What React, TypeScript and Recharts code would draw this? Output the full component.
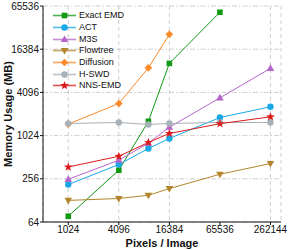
import React from 'react';
import { LineChart, Line, XAxis, YAxis, CartesianGrid, Legend } from 'recharts';

const pixels = [1024, 4096, 9216, 16384, 65536, 262144];
const exactEmd = [77, 337, 1620, 10400, 53600, null];
const act = [213, 405, 677, 934, 1830, 2580];
const m3s = [252, 465, 805, 1340, 3440, 8860];
const flowtree = [128, 136, 151, 187, 296, 418];
const diffusion = [1480, 2870, 9000, 26400, null, null];
const hswd = [1510, 1560, 1465, 1510, 1560, 1560];
const nnsEmd = [374, 528, 822, 1097, 1500, 1870];

const xTicks = [1024, 4096, 16384, 65536, 262144];
const yTicks = [64, 256, 1024, 4096, 16384, 65536];

type Shape = 'square' | 'circle' | 'triUp' | 'triDown' | 'diamond' | 'star';

const series: { key: string; name: string; color: string; shape: Shape; values: (number | null)[] }[] = [
  { key: 'exact', name: 'Exact EMD', color: '#119911', shape: 'square', values: exactEmd },
  { key: 'act', name: 'ACT', color: '#1aa7e6', shape: 'circle', values: act },
  { key: 'm3s', name: 'M3S', color: '#b565c9', shape: 'triUp', values: m3s },
  { key: 'flow', name: 'Flowtree', color: '#b3862e', shape: 'triDown', values: flowtree },
  { key: 'diff', name: 'Diffusion', color: '#fb8a2b', shape: 'diamond', values: diffusion },
  { key: 'hswd', name: 'H-SWD', color: '#a7b1b8', shape: 'circle', values: hswd },
  { key: 'nns', name: 'NNS-EMD', color: '#dd1a1a', shape: 'star', values: nnsEmd },
];

const data = pixels.map((p, i) => {
  const row: Record<string, number | null> = { x: p };
  series.forEach((s) => {
    row[s.key] = s.values[i];
  });
  return row;
});

function starPoints(cx: number, cy: number, ro: number, ri: number) {
  const pts: string[] = [];
  for (let i = 0; i < 10; i++) {
    const r = i % 2 === 0 ? ro : ri;
    const a = -Math.PI / 2 + (i * Math.PI) / 5;
    pts.push(`${cx + r * Math.cos(a)},${cy + r * Math.sin(a)}`);
  }
  return pts.join(' ');
}

function Marker({ cx, cy, shape, color }: { cx: number; cy: number; shape: Shape; color: string }) {
  switch (shape) {
    case 'square':
      return <rect x={cx - 2.8} y={cy - 2.8} width={5.6} height={5.6} fill={color} />;
    case 'circle':
      return <circle cx={cx} cy={cy} r={3.2} fill={color} />;
    case 'triUp':
      return <polygon points={`${cx},${cy - 4} ${cx + 3.8},${cy + 2.6} ${cx - 3.8},${cy + 2.6}`} fill={color} />;
    case 'triDown':
      return <polygon points={`${cx},${cy + 4} ${cx + 3.8},${cy - 2.6} ${cx - 3.8},${cy - 2.6}`} fill={color} />;
    case 'diamond':
      return <polygon points={`${cx},${cy - 3.8} ${cx + 3.8},${cy} ${cx},${cy + 3.8} ${cx - 3.8},${cy}`} fill={color} />;
    case 'star':
      return <polygon points={starPoints(cx, cy, 4.6, 1.9)} fill={color} />;
  }
  return null;
}

const FONT = '"Liberation Sans", Arial, sans-serif';

function LegendContent() {
  return (
    <div style={{ fontFamily: FONT, fontSize: 9, color: '#111' }}>
      {series.map((s) => (
        <div key={s.key} style={{ display: 'flex', alignItems: 'center', height: 11.67 }}>
          <svg width={26} height={11} style={{ display: 'block' }}>
            <line x1={1} y1={5.5} x2={24} y2={5.5} stroke={s.color} strokeWidth={1.6} opacity={0.75} />
            <Marker cx={12.5} cy={5.5} shape={s.shape} color={s.color} />
          </svg>
          <span style={{ marginLeft: 1, lineHeight: '11px', whiteSpace: 'nowrap' }}>{s.name}</span>
        </div>
      ))}
    </div>
  );
}

export default function App() {
  const tickStyle = { fontFamily: FONT, fontSize: 10, fill: '#111' };
  return (
    <div style={{ position: 'fixed', left: 0, top: 0, width: 288, height: 250, background: '#fff' }}>
      <LineChart width={288} height={250} data={data} margin={{ top: 6, right: 7, bottom: 0, left: 0 }}>
        <CartesianGrid vertical={false} stroke="#cfcfcf" strokeDasharray="5 2 1.5 2" />
        <CartesianGrid horizontal={false} stroke="#cfcfcf" strokeDasharray="4 3" />
        <XAxis
          dataKey="x"
          type="number"
          scale="log"
          domain={[512, 350000]}
          ticks={xTicks}
          allowDataOverflow
          height={28}
          tickSize={3}
          tickMargin={1}
          tick={tickStyle}
          axisLine={{ stroke: '#111' }}
          tickLine={{ stroke: '#111' }}
          label={{
            value: 'Pixels / Image',
            position: 'insideBottom',
            offset: 3,
            style: { fontFamily: FONT, fontSize: 11, fontWeight: 'bold', fill: '#111' },
          }}
        />
        <XAxis
          xAxisId="top"
          dataKey="x"
          type="number"
          scale="log"
          domain={[512, 350000]}
          orientation="top"
          height={0}
          tick={false}
          tickLine={false}
          axisLine={{ stroke: '#111' }}
        />
        <YAxis
          type="number"
          scale="log"
          domain={[64, 65536]}
          ticks={yTicks}
          allowDataOverflow
          width={43}
          tickSize={3}
          tickMargin={1}
          tick={tickStyle}
          axisLine={{ stroke: '#111' }}
          tickLine={{ stroke: '#111' }}
          label={{
            value: 'Memory Usage (MB)',
            angle: -90,
            position: 'insideLeft',
            offset: 8,
            style: { textAnchor: 'middle', fontFamily: FONT, fontSize: 11, fontWeight: 'bold', fill: '#111' },
          }}
        />
        <YAxis
          yAxisId="right"
          orientation="right"
          type="number"
          scale="log"
          domain={[64, 65536]}
          width={0}
          tick={false}
          tickLine={false}
          axisLine={{ stroke: '#111' }}
        />
        {series.map((s) => (
          <Line
            key={s.key}
            dataKey={s.key}
            name={s.name}
            stroke={s.color}
            strokeWidth={1}
            isAnimationActive={false}
            connectNulls={false}
            dot={(props: any) => {
              const { cx, cy, index, value } = props;
              if (cx == null || cy == null || value == null) return <g key={`${s.key}-${index}`} />;
              return (
                <g key={`${s.key}-${index}`}>
                  <Marker cx={cx} cy={cy} shape={s.shape} color={s.color} />
                </g>
              );
            }}
            activeDot={false}
          />
        ))}
        <Legend
          layout="vertical"
          align="center"
          verticalAlign="middle"
          wrapperStyle={{ left: 52, top: 10, width: 100 }}
          content={() => <LegendContent />}
        />
      </LineChart>
    </div>
  );
}
